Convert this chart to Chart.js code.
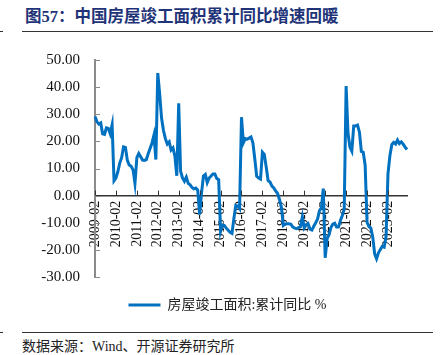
<!DOCTYPE html>
<html>
<head>
<meta charset="utf-8">
<script src="https://cdn.jsdelivr.net/npm/chart.js@4/dist/chart.umd.min.js"></script>
<style>
  html, body { margin: 0; padding: 0; background: #fff; }
  body { width: 442px; height: 355px; position: relative; overflow: hidden; }
  #title { position: absolute; left: 25px; top: 6px; font-family: "Liberation Serif", "Noto Sans CJK SC", serif; font-weight: bold; font-size: 16.5px; color: #1f3478; white-space: nowrap; line-height: 22px; }
  .rule { position: absolute; height: 1px; background: #333; }
  #footer { position: absolute; left: 22px; top: 338px; font-family: "Liberation Serif", "Noto Sans CJK SC", serif; font-size: 14px; color: #222; white-space: nowrap; line-height: 18px; }
  #wrap { position: absolute; left: 0; top: 36px; width: 442px; height: 290px; }
</style>
</head>
<body>
<div id="title">图57：中国房屋竣工面积累计同比增速回暖</div>
<div class="rule" style="left:22px; top:31px; width:411px;"></div>
<div class="rule" style="left:0px; top:31px; width:3px;"></div>
<div id="wrap"><canvas id="c" width="442" height="290"></canvas></div>
<div class="rule" style="left:22px; top:332px; width:411px;"></div>
<div class="rule" style="left:0px; top:332px; width:3px;"></div>
<div id="footer">数据来源：Wind、开源证券研究所</div>
<script>
// ---- data ----
const years = [2009, 2010, 2011, 2012, 2013, 2014, 2015, 2016, 2017, 2018, 2019, 2020, 2021, 2022, 2023];
const months = ['02', '03', '04', '05', '06', '07', '08', '09', '10', '11', '12'];
const seriesName = '房屋竣工面积:累计同比 %';
// cumulative YoY (%), Feb..Dec of each year
const y2009 = [29.2, 27.3, 26.4, 26.8, 22.8, 22.6, 25.0, 24.8, 22.8, 26.1, 5.5];
const y2010 = [6.5, 8.8, 12.0, 14.0, 18.0, 17.8, 13.0, 11.3, 10.8, 9.5, 4.5];
const y2011 = [14.0, 15.5, 14.3, 13.1, 13.0, 13.3, 15.5, 17.5, 19.5, 22.3, 13.3];
const y2012 = [45.2, 37.5, 28.5, 24.0, 21.0, 19.0, 19.8, 16.8, 17.6, 14.5, 7.3];
const y2013 = [34.0, 9.0, 6.5, 5.3, 6.8, 4.5, 4.0, 3.0, 2.5, 2.8, 2.0];
const y2014 = [-7.0, 1.0, 7.2, 7.8, 4.8, 6.5, 7.2, 8.0, 8.0, 6.3, 5.9];
const y2015 = [-13.2, -10.8, -11.0, -12.0, -12.8, -13.5, -13.9, -8.5, -3.6, -3.8, -4.8];
const y2016 = [28.9, 19.5, 21.0, 20.8, 21.2, 21.6, 19.5, 13.5, 7.1, 6.5, 6.1];
const y2017 = [16.0, 15.2, 10.5, 5.5, 5.0, 3.5, 2.8, 1.7, 0.8, -1.5, -4.4];
const y2018 = [-11.0, -10.5, -10.4, -10.4, -10.6, -11.6, -12.0, -12.2, -11.8, -11.5, -7.8];
const y2019 = [-11.9, -10.8, -10.3, -12.4, -12.7, -11.3, -10.0, -8.6, -5.5, -4.5, 2.6];
const y2020 = [-22.9, -15.8, -14.5, -11.8, -10.5, -10.2, -11.6, -11.6, -9.2, -7.3, -4.9];
const y2021 = [40.4, 22.9, 17.9, 16.4, 25.7, 25.7, 26.0, 23.4, 16.3, 16.0, 11.2];
const y2022 = [-9.8, -11.5, -11.9, -15.3, -21.5, -23.3, -21.1, -19.9, -18.7, -19.0, -15.0];
const y2023 = [8.0, 14.7, 18.8, 19.6, 19.0, 20.5, 19.2, 19.8, 19.0, 17.9, 17.0];
const yTickMin = -30, yTickMax = 50, yTickStep = 10;

const perYear = [y2009, y2010, y2011, y2012, y2013, y2014, y2015, y2016, y2017, y2018, y2019, y2020, y2021, y2022, y2023];
const categories = [];
years.forEach(y => months.forEach(m => categories.push(y + '-' + m)));
const values = [].concat(...perYear);

const SERIF = '"Liberation Serif", "Noto Sans CJK SC", serif';

const innerTicks = {
  id: 'innerTicks',
  afterDraw(chart) {
    const ctx = chart.ctx;
    const xs = chart.scales.x, ys = chart.scales.y;
    ctx.save();
    ctx.strokeStyle = '#8a8a8a';
    ctx.lineWidth = 1;
    ys.ticks.forEach((t, i) => {
      const py = Math.round(ys.getPixelForTick(i)) + 0.5;
      ctx.beginPath();
      ctx.moveTo(ys.right, py);
      ctx.lineTo(ys.right + 5, py);
      ctx.stroke();
    });
    const y0 = ys.getPixelForValue(0);
    ctx.strokeStyle = '#333';
    xs.ticks.forEach((t, i) => {
      if (!String(categories[t.value]).endsWith('-02')) return;
      const px = Math.round(xs.getPixelForTick(i)) + 0.5;
      ctx.beginPath();
      ctx.moveTo(px, y0);
      ctx.lineTo(px, y0 - 5);
      ctx.stroke();
    });
    ctx.restore();
  }
};

const legendShift = {
  id: 'legendShift',
  afterLayout(chart) {
    const lg = chart.legend;
    if (lg) { lg.left += 24; lg.right += 24; }
  }
};

new Chart(document.getElementById('c'), {
  type: 'line',
  data: {
    labels: categories,
    datasets: [{
      label: seriesName,
      data: values,
      borderColor: '#0070C0',
      backgroundColor: '#0070C0',
      borderWidth: 3,
      pointRadius: 0,
      tension: 0,
      fill: false
    }]
  },
  options: {
    responsive: false,
    animation: false,
    devicePixelRatio: 1,
    layout: { padding: { left: 0, right: 35, top: 19, bottom: 4 } },
    plugins: {
      tooltip: { enabled: false },
      legend: {
        position: 'bottom',
        labels: {
          boxWidth: 32,
          boxHeight: 3,
          padding: 21,
          color: '#222',
          font: { family: SERIF, size: 14 },
          generateLabels(chart) {
            const items = Chart.defaults.plugins.legend.labels.generateLabels(chart);
            items.forEach(it => { it.lineWidth = 0; it.fillStyle = '#0070C0'; it.strokeStyle = '#0070C0'; });
            return items;
          }
        }
      }
    },
    scales: {
      x: {
        type: 'category',
        position: { y: 0 },
        offset: false,
        grid: { display: false, drawTicks: false },
        border: { display: true, color: '#333', width: 1.5 },
        ticks: {
          autoSkip: false,
          minRotation: 90,
          maxRotation: 90,
          padding: 5,
          color: '#111',
          font: { family: SERIF, size: 14 },
          callback(v) { const l = categories[v]; return l.endsWith('-02') ? l : ''; }
        }
      },
      y: {
        min: yTickMin,
        max: yTickMax,
        grid: { display: false, drawTicks: false },
        border: { display: true, color: '#8a8a8a', width: 2 },
        ticks: {
          stepSize: yTickStep,
          padding: 15,
          color: '#111',
          font: { family: SERIF, size: 15 },
          callback(v) { return Number(v).toFixed(2); }
        },
        afterFit(s) { s.width = 95; }
      }
    }
  },
  plugins: [innerTicks, legendShift]
});
</script>
</body>
</html>
